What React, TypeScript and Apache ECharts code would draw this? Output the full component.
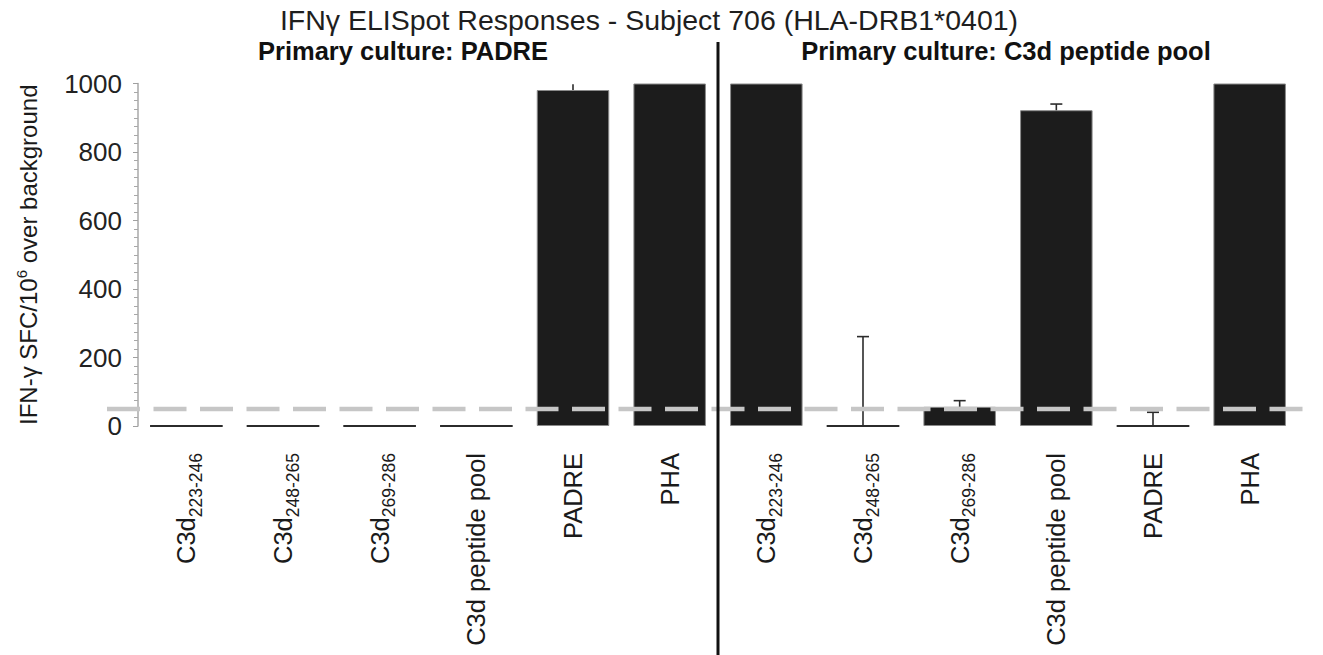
import React, { useEffect, useRef } from "react";
import * as echarts from "echarts";

// ---- data ----
const categories: string[] = [
  "C3d_223-246", "C3d_248-265", "C3d_269-286", "C3d peptide pool", "PADRE", "PHA",
  "C3d_223-246", "C3d_248-265", "C3d_269-286", "C3d peptide pool", "PADRE", "PHA",
];
const padreCultureValues: number[] = [0, 0, 0, 0, 981, 1000];
const c3dCultureValues: number[] = [1000, 0, 56, 922, 0, 1000];
const padreCultureErrTop: (number | null)[] = [null, null, null, null, 998, null];
const c3dCultureErrTop: (number | null)[] = [null, 261, 74, 940, 40, null];
const cutoffValue = 50;
const groupHeaders: string[] = ["Primary culture: PADRE", "Primary culture: C3d peptide pool"];
const titleText = "IFN\u03B3 ELISpot Responses - Subject 706 (HLA-DRB1*0401)";
const yTicks = { min: 0, max: 1000, interval: 200 };

const FONT = "'Liberation Sans', Arial, sans-serif";

export default function App() {
  const ref = useRef<HTMLDivElement>(null);
  useEffect(() => {
    if (!ref.current) return;
    const chart = echarts.init(ref.current, null, { renderer: "svg" });
    const values = [...padreCultureValues, ...c3dCultureValues];
    const errTops = [...padreCultureErrTop, ...c3dCultureErrTop];
    const errData = values.map((v, i) => [i, v, errTops[i] == null ? NaN : errTops[i]]);

    chart.setOption({
      animation: false,
      textStyle: { fontFamily: FONT },
      grid: { left: 138, right: 25, top: 83.5, bottom: 229, containLabel: false },
      xAxis: {
        type: "category",
        data: categories,
        axisLine: { show: false },
        axisTick: { show: false },
        axisLabel: {
          interval: 0,
          rotate: 90,
          margin: 27,
          color: "#1a1a1a",
          fontFamily: FONT,
          formatter: (v: string) => {
            const parts = v.split("_");
            if (parts.length === 2) return `{n|${parts[0]}}{s|${parts[1]}}`;
            return `{n|${v}}`;
          },
          rich: {
            n: { fontSize: 25.5, lineHeight: 32, fontFamily: FONT, color: "#1a1a1a" },
            s: { fontSize: 17.5, height: 13, lineHeight: 13, fontFamily: FONT, color: "#1a1a1a", verticalAlign: "bottom" },
          },
        },
      },
      yAxis: {
        type: "value",
        min: yTicks.min,
        max: yTicks.max,
        interval: yTicks.interval,
        name: "{a|IFN-\u03B3 SFC/10}{b|6}{a| over background}",
        nameLocation: "middle",
        nameGap: 96,
        nameTextStyle: {
          rich: {
            a: { fontSize: 24, lineHeight: 28, fontFamily: FONT, color: "#1a1a1a" },
            b: { fontSize: 15, lineHeight: 16, fontFamily: FONT, color: "#1a1a1a", verticalAlign: "top" },
          },
        },
        axisLine: { show: true, lineStyle: { color: "#a8a8a8", width: 1.5 } },
        axisTick: { show: true, length: 5, lineStyle: { color: "#a0a0a0" } },
        minorTick: { show: true, splitNumber: 8, length: 4, lineStyle: { color: "#a8a8a8" } },
        splitLine: { show: false },
        axisLabel: {
          fontSize: 26,
          color: "#222",
          margin: 16,
          fontFamily: FONT,
          formatter: (v: number) => String(v),
        },
      },
      series: [
        {
          type: "bar",
          data: values,
          barWidth: "75%",
          z: 2,
          itemStyle: { color: "#1c1c1c", borderColor: "#8a8a8a", borderWidth: 1 },
        },
        {
          type: "custom",
          z: 3,
          silent: true,
          data: errData,
          encode: { x: 0, y: 1 },
          renderItem: (params: any, api: any) => {
            const i = api.value(0);
            const v = api.value(1);
            const e = api.value(2);
            const children: any[] = [];
            const base = api.coord([i, v]);
            if (v === 0) {
              const w = api.size([1, 0])[0] * 0.75;
              children.push({
                type: "line",
                shape: { x1: base[0] - w / 2, y1: base[1], x2: base[0] + w / 2, y2: base[1] },
                style: { stroke: "#2b2b2b", lineWidth: 2.2 },
              });
            }
            if (!isNaN(e)) {
              const top = api.coord([i, e]);
              children.push({
                type: "line",
                shape: { x1: base[0], y1: base[1], x2: top[0], y2: top[1] },
                style: { stroke: "#2b2b2b", lineWidth: 1.6 },
              });
              if (e < yTicks.max * 0.99) {
                children.push({
                  type: "line",
                  shape: { x1: top[0] - 6, y1: top[1], x2: top[0] + 6, y2: top[1] },
                  style: { stroke: "#2b2b2b", lineWidth: 1.6 },
                });
              }
            }
            return { type: "group", children };
          },
        },
        {
          type: "custom",
          z: 4,
          silent: true,
          data: [[5, cutoffValue]],
          encode: { x: 0, y: 1 },
          renderItem: (params: any, api: any) => {
            const cs = params.coordSys;
            const p = api.coord([api.value(0), api.value(1)]);
            const halfBand = api.size([1, 0])[0] / 2;
            return {
              type: "group",
              children: [
                {
                  type: "line",
                  shape: { x1: cs.x - 31, y1: p[1], x2: cs.x + cs.width + 7, y2: p[1] },
                  style: { stroke: "#c6c6c6", lineWidth: 4.5, lineDash: [33, 13.5], lineCap: "butt" },
                },
                {
                  type: "line",
                  shape: { x1: p[0] + halfBand, y1: 42, x2: p[0] + halfBand, y2: 655 },
                  style: { stroke: "#111", lineWidth: 3 },
                },
              ],
            };
          },
        },
      ],
      graphic: [
        {
          type: "text",
          x: 649,
          y: 20,
          style: {
            text: titleText,
            fontSize: 28.5,
            fontFamily: FONT,
            fill: "#1e1e1e",
            align: "center",
            verticalAlign: "middle",
          },
        },
        {
          type: "text",
          x: 403,
          y: 51,
          style: {
            text: groupHeaders[0],
            fontSize: 25.5,
            fontWeight: "bold",
            fontFamily: FONT,
            fill: "#111",
            align: "center",
            verticalAlign: "middle",
          },
        },
        {
          type: "text",
          x: 1006,
          y: 51,
          style: {
            text: groupHeaders[1],
            fontSize: 25.5,
            fontWeight: "bold",
            fontFamily: FONT,
            fill: "#111",
            align: "center",
            verticalAlign: "middle",
          },
        },
      ],
    });
    return () => chart.dispose();
  }, []);
  return (
    <div
      ref={ref}
      style={{ position: "fixed", left: 0, top: 0, width: 1323, height: 655, background: "#fff" }}
    />
  );
}
